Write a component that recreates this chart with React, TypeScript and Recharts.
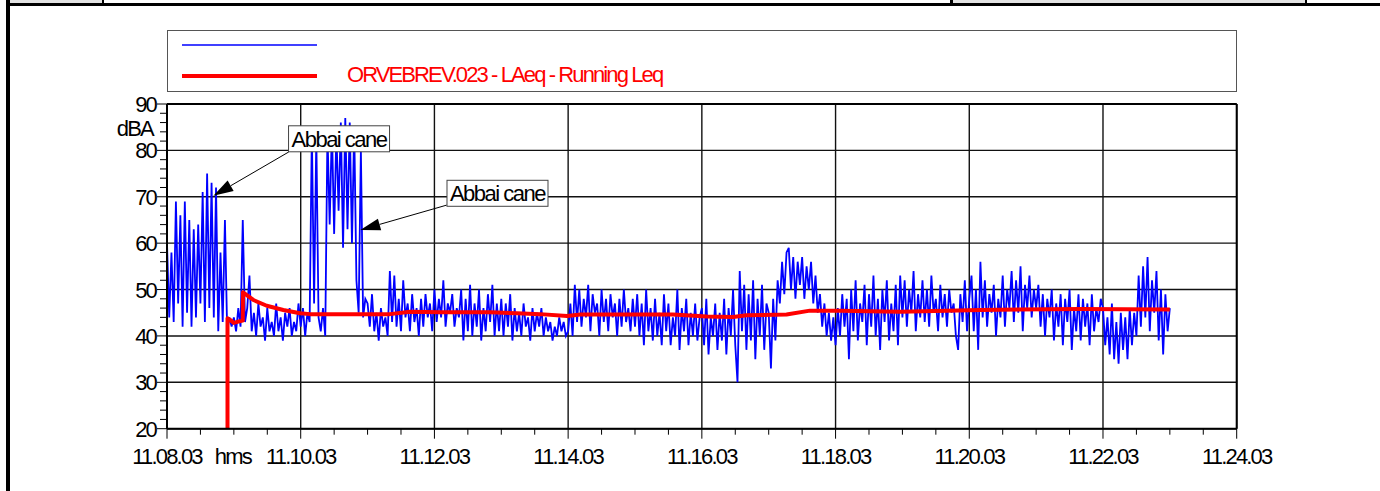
import { LineChart, Line, XAxis, YAxis, CartesianGrid, ReferenceLine, ReferenceDot } from 'recharts'

// blue trace, one value every 2 s, one array per minute starting at 11.08.03
const blueMin00 = [60, 44, 58, 43, 69, 47, 66, 42, 69, 45, 65, 42, 63, 44, 64, 47, 71, 43, 75, 46, 73, 44, 72, 41, 58, 43, 65, 41, 44, 42]
const blueMin01 = [44, 41, 46, 42, 65, 43, 46, 53, 41, 45, 40, 47, 42, 44, 39, 46, 41, 43, 40, 47, 41, 44, 39, 45, 42, 46, 40, 43, 41, 47]
const blueMin02 = [42, 46, 40, 45, 43, 84, 47, 83, 44, 41, 46, 40, 84, 64, 85, 62, 84, 67, 86, 59, 87, 63, 86, 60, 85, 52, 45, 80, 44, 48]
const blueMin03 = [47, 42, 49, 41, 45, 39, 46, 42, 44, 40, 54, 43, 53, 42, 48, 41, 52, 44, 47, 41, 49, 43, 46, 40, 48, 42, 49, 44, 47, 41]
const blueMin04 = [50, 43, 48, 44, 52, 42, 47, 45, 49, 42, 46, 44, 50, 39, 48, 41, 51, 40, 47, 42, 50, 39, 46, 41, 49, 43, 51, 40, 47, 41]
const blueMin05 = [48, 40, 47, 42, 49, 39, 46, 41, 45, 40, 47, 42, 44, 39, 46, 41, 45, 42, 46, 40, 44, 41, 43, 39, 42, 40, 44, 41, 43, 40]
const blueMin06 = [41, 47, 40, 51, 43, 50, 42, 48, 44, 51, 41, 49, 45, 47, 40, 50, 43, 48, 41, 49, 44, 47, 40, 48, 42, 50, 43, 46, 41, 48]
const blueMin07 = [42, 49, 40, 47, 38, 50, 41, 46, 39, 48, 40, 45, 38, 49, 41, 47, 38, 44, 40, 50, 37, 46, 41, 48, 38, 45, 40, 47, 39, 44]
const blueMin08 = [46, 38, 48, 36, 44, 40, 47, 37, 45, 39, 48, 36, 46, 40, 50, 38, 30, 54, 41, 51, 37, 49, 39, 52, 35, 48, 40, 51, 37, 47]
const blueMin09 = [45, 33, 48, 39, 52, 47, 56, 49, 58, 59, 50, 57, 48, 56, 51, 57, 48, 55, 50, 56, 47, 53, 45, 49, 42, 47, 40, 45, 39, 44]
const blueMin10 = [38, 46, 40, 49, 42, 48, 35, 50, 41, 52, 39, 47, 43, 51, 38, 49, 42, 53, 40, 48, 37, 50, 43, 52, 39, 47, 41, 51, 38, 53]
const blueMin11 = [44, 52, 42, 50, 45, 54, 41, 49, 44, 52, 43, 50, 42, 53, 45, 48, 41, 51, 44, 49, 42, 50, 45, 47, 40, 37, 49, 43, 52, 41]
const blueMin12 = [48, 53, 41, 50, 37, 56, 44, 52, 42, 49, 45, 51, 40, 48, 44, 53, 42, 50, 46, 54, 43, 52, 45, 55, 41, 51, 46, 53, 44, 50]
const blueMin13 = [46, 51, 42, 49, 40, 48, 44, 50, 39, 47, 42, 49, 38, 48, 43, 50, 37, 46, 41, 49, 39, 48, 42, 47, 38, 49, 41, 46, 43, 48]
const blueMin14 = [46, 38, 44, 36, 47, 35, 43, 34, 45, 37, 44, 35, 46, 38, 45, 40, 53, 42, 55, 44, 57, 41, 52, 45, 54, 39, 50, 36, 49, 41]
const blueLast = [46]

// running Leq (seconds after 11.08.03, dBA)
const redTimes = [54.3, 54.3, 57, 60, 64, 68, 68.2, 77.5, 89.5, 104.4, 119.4, 128.4, 200, 218, 245, 290, 314, 335, 359, 371, 454, 484.5, 508, 520, 556, 577, 604, 658, 730, 820, 900]
const redValues = [20, 43.8, 43.4, 42.8, 43.1, 43.3, 49.4, 47.75, 46.5, 45.6, 44.9, 44.7, 44.7, 45.2, 45.1, 45.1, 44.9, 44.7, 44.3, 44.6, 44.6, 44.2, 44.1, 44.45, 44.6, 45.45, 45.45, 45.2, 45.6, 45.8, 45.7]

const seriesNames = ['', 'ORVEBREV.023 - LAeq - Running Leq']
const seriesColors = ['#0000ff', '#ff0000']

const xLabels = ['11.08.03', '11.10.03', '11.12.03', '11.14.03', '11.16.03', '11.18.03', '11.20.03', '11.22.03', '11.24.03']
const yMajor = [20, 30, 40, 50, 60, 70, 80, 90]
const yUnit = 'dBA'
const xUnit = 'hms'

const annotations = [
  { label: 'Abbai cane', t: 154.4, v: 82.5, fromT: 109.2, fromV: 79.65, toT: 41.6, toV: 70.2 },
  { label: 'Abbai cane', t: 296.6, v: 70.75, fromT: 251.0, fromV: 68.2, toT: 173.5, toV: 62.85 },
]

const blueData = [
  ...blueMin00, ...blueMin01, ...blueMin02, ...blueMin03, ...blueMin04,
  ...blueMin05, ...blueMin06, ...blueMin07, ...blueMin08, ...blueMin09,
  ...blueMin10, ...blueMin11, ...blueMin12, ...blueMin13, ...blueMin14, ...blueLast,
].map((v, i) => ({ t: i * 2, v }))

const redData = redTimes.map((t, i) => ({ t, v: redValues[i] }))

const xTicks = Array.from({ length: 33 }, (_, i) => i * 30)
const yTicks = Array.from({ length: 36 }, (_, i) => 20 + i * 2)

const font = '"Liberation Sans", Arial, sans-serif'
const textStyle = { fontFamily: font, fontSize: 22, letterSpacing: '-1.8px' }

function YTick(props: any) {
  const { x, y, payload } = props
  const v = payload.value
  const major = v % 10 === 0
  return (
    <g>
      <line x1={x - (major ? 10 : 7)} x2={x} y1={y} y2={y} stroke="#000" strokeWidth={1} />
      {major && (
        <text x={x - 11} y={y + 8} textAnchor="end" fill="#000" style={textStyle}>{v}</text>
      )}
      {v === 84 && (
        <text x={x - 14} y={y + 4} textAnchor="end" fill="#000" style={textStyle}>{yUnit}</text>
      )}
    </g>
  )
}

function XTick(props: any) {
  const { x, y, payload } = props
  const t = payload.value
  const major = t % 120 === 0
  return (
    <g>
      <line x1={x} x2={x} y1={y} y2={y + (major ? 10 : 6)} stroke="#000" strokeWidth={1} />
      {major && (
        <text x={x} y={y + 35} textAnchor="middle" fill="#000" style={textStyle}>{xLabels[t / 120]}</text>
      )}
      {t === 60 && (
        <text x={x - 1} y={y + 35} textAnchor="middle" fill="#000" style={textStyle}>{xUnit}</text>
      )}
    </g>
  )
}

function Arrow(props: any) {
  const { x1, y1, x2, y2 } = props
  const a = Math.atan2(y2 - y1, x2 - x1)
  const len = 20
  const w = 6
  const bx = x2 - len * Math.cos(a)
  const by = y2 - len * Math.sin(a)
  const px = -Math.sin(a) * w
  const py = Math.cos(a) * w
  return (
    <g>
      <line x1={x1} y1={y1} x2={bx} y2={by} stroke="#000" strokeWidth={1} />
      <polygon points={`${x2},${y2} ${bx + px},${by + py} ${bx - px},${by - py}`} fill="#000" />
    </g>
  )
}

function LabelBox(label: string) {
  return (props: any) => {
    const { cx, cy } = props
    const w = 101
    const h = 26
    return (
      <g>
        <rect x={cx - w / 2} y={cy - h / 2} width={w} height={h} fill="#fff" stroke="#444" strokeWidth={1} />
        <text x={cx} y={cy + 8} textAnchor="middle" fill="#000" style={{ ...textStyle, letterSpacing: '-1.5px' }}>{label}</text>
      </g>
    )
  }
}

export default function App() {
  return (
    <div style={{ position: 'absolute', left: 0, top: 0, width: 1380, height: 491, background: '#fff', overflow: 'hidden' }}>
      {/* page frame */}
      <div style={{ position: 'absolute', left: 10, top: 0, width: 92, height: 3, background: '#e2e2e2' }} />
      <div style={{ position: 'absolute', left: 102, top: 0, width: 2, height: 3, background: '#000' }} />
      <div style={{ position: 'absolute', left: 953, top: 0, width: 352, height: 3, background: '#e2e2e2' }} />
      <div style={{ position: 'absolute', left: 950, top: 0, width: 3, height: 3, background: '#000' }} />
      <div style={{ position: 'absolute', left: 1305, top: 0, width: 2, height: 3, background: '#000' }} />
      <div style={{ position: 'absolute', left: 7, top: 3, width: 1373, height: 3, background: '#000' }} />
      <div style={{ position: 'absolute', left: 6, top: 0, width: 4, height: 491, background: '#000' }} />

      {/* legend */}
      <svg style={{ position: 'absolute', left: 167, top: 30 }} width={1070} height={62}>
        <rect x={0.5} y={0.5} width={1069} height={61} fill="#fff" stroke="#555" strokeWidth={1} />
        {seriesNames.map((name, i) => (
          <g key={i}>
            <line x1={15} x2={150} y1={15 + i * 31} y2={15 + i * 31} stroke={seriesColors[i]} strokeWidth={i === 0 ? 1.5 : 4} />
            <text x={180} y={22 + i * 30} fill={seriesColors[i]} style={{ ...textStyle, letterSpacing: '-1.9px' }}>{name}</text>
          </g>
        ))}
      </svg>

      <div style={{ position: 'absolute', left: 0, top: 0 }}>
        <LineChart width={1380} height={491} margin={{ top: 104, right: 143.3, bottom: 22.3, left: 0 }}>
          <CartesianGrid
            stroke="#111"
            strokeWidth={1.4}
            horizontalValues={yMajor}
            verticalValues={xTicks.filter(t => t % 120 === 0)}
          />
          <XAxis
            dataKey="t"
            type="number"
            domain={[0, 960]}
            ticks={xTicks}
            interval={0}
            height={40}
            tickSize={0}
            tickMargin={0}
            tickLine={false}
            axisLine={{ stroke: '#000', strokeWidth: 2 }}
            tick={<XTick />}
            allowDuplicatedCategory={false}
          />
          <YAxis
            type="number"
            domain={[20, 90]}
            ticks={yTicks}
            interval={0}
            width={167}
            tickSize={0}
            tickMargin={0}
            tickLine={false}
            axisLine={{ stroke: '#000', strokeWidth: 2 }}
            tick={<YTick />}
          />
          <ReferenceLine y={90} stroke="#000" strokeWidth={2} />
          <ReferenceLine x={960} stroke="#000" strokeWidth={2} />
          <Line
            data={blueData}
            dataKey="v"
            type="linear"
            stroke={seriesColors[0]}
            strokeWidth={1.8}
            dot={false}
            isAnimationActive={false}
          />
          <Line
            data={redData}
            dataKey="v"
            type="linear"
            stroke={seriesColors[1]}
            strokeWidth={4}
            strokeLinejoin="round"
            dot={false}
            isAnimationActive={false}
          />
          {annotations.map((a, i) => (
            <ReferenceLine
              key={'arrow' + i}
              segment={[{ x: a.fromT, y: a.fromV }, { x: a.toT, y: a.toV }]}
              shape={<Arrow />}
            />
          ))}
          {annotations.map((a, i) => (
            <ReferenceDot key={'box' + i} x={a.t} y={a.v} r={1} shape={LabelBox(a.label)} />
          ))}
        </LineChart>
      </div>
    </div>
  )
}
